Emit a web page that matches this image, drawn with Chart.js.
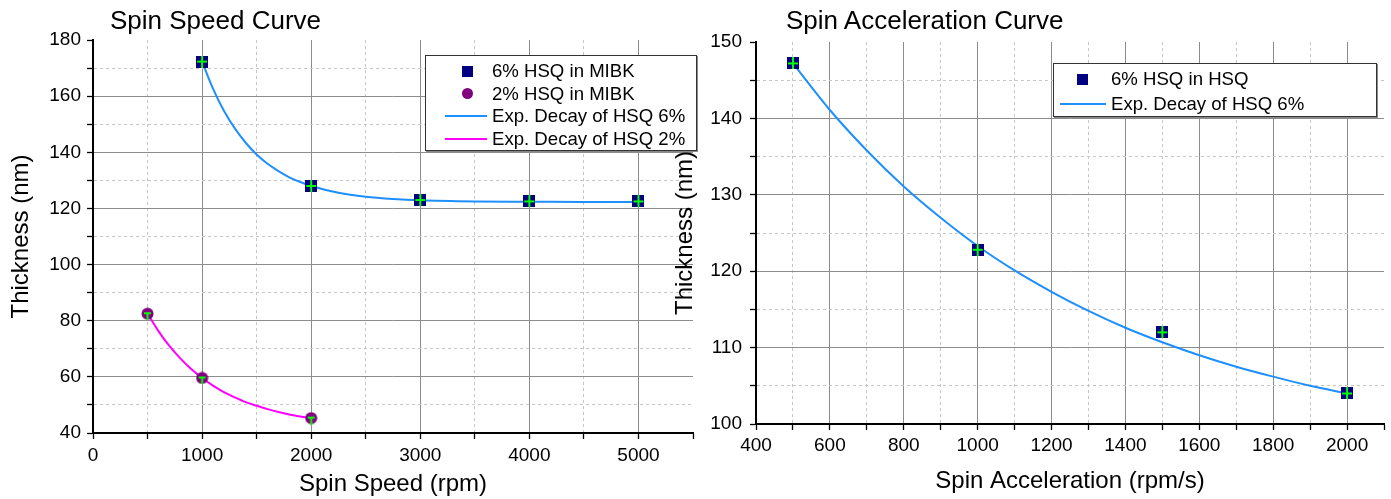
<!DOCTYPE html>
<html><head><meta charset="utf-8">
<script src="https://cdn.jsdelivr.net/npm/chart.js@4.4.0/dist/chart.umd.min.js"></script>
<style>
html,body{margin:0;padding:0;background:#fff;}
body{width:1391px;height:499px;position:relative;overflow:hidden;font-family:'Liberation Sans',Arial,sans-serif;}
canvas{position:absolute;top:0;}
.title{position:absolute;font-size:26px;line-height:26px;color:#000;white-space:nowrap;}
.legend{position:absolute;box-sizing:border-box;border:1px solid #333;box-shadow:1px 1px 0 #888;background:#fff;}
</style>
</head><body>
<canvas id="c1" width="700" height="499" style="left:0"></canvas>
<canvas id="c2" width="723" height="499" style="left:668px"></canvas>
<div class="title" style="left:110px;top:7px">Spin Speed Curve</div>
<div class="title" style="left:786px;top:7px">Spin Acceleration Curve</div>
<div class="legend" id="leg1" style="left:425px;top:55px;width:272px;height:96px"></div>
<div class="legend" id="leg2" style="left:1053px;top:63px;width:324px;height:54px"></div>
<script>
// ---- Data ----
const speed6 = [1000, 2000, 3000, 4000, 5000];
const thick6 = [172.3, 128.0, 123.0, 122.5, 122.5];
const speed2 = [500, 1000, 2000];
const thick2 = [82.5, 59.6, 45.3];
const fit6X = [1000,1100,1200,1300,1400,1500,1600,1700,1800,1900,2000,2250,2500,2750,3000,3500,4000,4500,5000];
const fit6Y = [172.3,162.7,154.8,148.5,143.4,139.2,135.9,133.3,131.1,129.4,128.0,125.6,124.2,123.4,122.9,122.5,122.4,122.3,122.3];
const fit2X = [500,600,700,800,900,1000,1100,1200,1300,1400,1500,1600,1700,1800,1900,2000];
const fit2Y = [82.5,76.3,71.0,66.6,62.8,59.6,56.9,54.6,52.7,51.0,49.7,48.5,47.5,46.6,45.9,45.3];
const accel = [500, 1000, 1500, 2000];
const thickAcc = [147.2, 122.8, 112.0, 104.0];
const fitAccX = [500,600,700,800,900,1000,1100,1200,1300,1400,1500,1600,1700,1800,1900,2000];
const fitAccY = [147.2,141.1,135.8,131.1,127.0,123.3,120.1,117.3,114.8,112.6,110.7,109.0,107.5,106.2,105.0,104.0];
// tick labels (major ticks)
const speedTicks = [0, 1000, 2000, 3000, 4000, 5000];
const thickTicksL = [40, 60, 80, 100, 120, 140, 160, 180];
const accelTicks = [400, 600, 800, 1000, 1200, 1400, 1600, 1800, 2000];
const thickTicksR = [100, 110, 120, 130, 140, 150];
// labels
const lbl6 = '6% HSQ in MIBK', lbl2 = '2% HSQ in MIBK', lblFit6 = 'Exp. Decay of HSQ 6%', lblFit2 = 'Exp. Decay of HSQ 2%';
const lblAcc = '6% HSQ in HSQ', lblFitAcc = 'Exp. Decay of HSQ 6%';

// ---- Styles ----
const LIME = '#00ff00', NAVY = '#000080', PURPLE = '#800080', BLUE = '#1e8fff', MAGENTA = '#ff00ff';
const FONT = "'Liberation Sans', Arial, sans-serif";

function squareMarker() {
  const c = document.createElement('canvas'); c.width = 12; c.height = 12;
  const g = c.getContext('2d');
  g.fillStyle = NAVY; g.fillRect(0, 0, 12, 12);
  g.fillStyle = LIME; g.fillRect(1, 5, 10, 2); g.fillRect(5, 0, 2, 12);
  return c;
}
function circleMarker() {
  const c = document.createElement('canvas'); c.width = 13; c.height = 13;
  const g = c.getContext('2d');
  g.fillStyle = PURPLE; g.beginPath(); g.arc(6.5, 6.5, 6, 0, Math.PI * 2); g.fill();
  g.fillStyle = LIME; g.fillRect(3, 5, 7, 2); g.fillRect(5.5, 6, 2, 7);
  return c;
}
const pts = (xs, ys) => xs.map((x, i) => ({x, y: ys[i]}));

function axis(o) {
  const isMajor = v => o.major.includes(v);
  return {
    type: 'linear', position: o.position, min: o.min, max: o.max,
    afterFit: s => { if (o.width != null) s.width = o.width; if (o.height != null) s.height = o.height; },
    ticks: { stepSize: o.step, autoSkip: false, maxRotation: 0, color: '#000', padding: o.tickPad,
      font: {family: FONT, size: 19}, callback: v => isMajor(v) ? String(v) : '' },
    grid: { drawTicks: true, tickLength: 6, lineWidth: 1, tickWidth: 1.3, tickColor: '#000', tickBorderDash: [],
      color: c => { const v = c.tick && c.tick.value; if (v == null || v === o.min || v === o.max) return 'rgba(0,0,0,0)'; return isMajor(v) ? '#8c8c8c' : '#c6c6c6'; } },
    border: { display: true, color: '#000', width: 2, dash: c => (c.tick && !isMajor(c.tick.value)) ? [3, 3] : [] },
    title: { display: true, text: o.title, color: '#000', font: {family: FONT, size: 24}, padding: o.titlePad }
  };
}

const common = {
  responsive: false, animation: false, events: [],
  plugins: { legend: { display: false }, tooltip: { enabled: false }, title: { display: false } }
};

new Chart(document.getElementById('c1'), {
  type: 'scatter',
  data: { datasets: [
    { label: lblFit6, data: pts(fit6X, fit6Y), showLine: true, borderColor: BLUE, borderWidth: 2, pointRadius: 0, cubicInterpolationMode: 'monotone', order: 2 },
    { label: lblFit2, data: pts(fit2X, fit2Y), showLine: true, borderColor: MAGENTA, borderWidth: 2, pointRadius: 0, cubicInterpolationMode: 'monotone', order: 2 },
    { label: lbl6, data: pts(speed6, thick6), pointStyle: squareMarker(), pointRadius: 6, order: 1 },
    { label: lbl2, data: pts(speed2, thick2), pointStyle: circleMarker(), pointRadius: 6, order: 1 }
  ]},
  options: Object.assign({}, common, {
    layout: { padding: { left: 0, top: 40, right: 4, bottom: 0 } },
    scales: {
      x: axis({position: 'bottom', min: 0, max: 5500, step: 500, major: speedTicks, title: 'Spin Speed (rpm)', height: 66, tickPad: 5, titlePad: {top: 0, bottom: 0}}),
      y: axis({position: 'left', min: 40, max: 180, step: 10, major: thickTicksL, title: 'Thickness (nm)', width: 93, tickPad: 6, titlePad: {top: 7, bottom: 0}})
    }
  })
});

new Chart(document.getElementById('c2'), {
  type: 'scatter',
  data: { datasets: [
    { label: lblFitAcc, data: pts(fitAccX, fitAccY), showLine: true, borderColor: BLUE, borderWidth: 2, pointRadius: 0, cubicInterpolationMode: 'monotone', order: 2 },
    { label: lblAcc, data: pts(accel, thickAcc), pointStyle: squareMarker(), pointRadius: 6, order: 1 }
  ]},
  options: Object.assign({}, common, {
    layout: { padding: { left: 0, top: 42, right: 7, bottom: 0 } },
    scales: {
      x: axis({position: 'bottom', min: 400, max: 2100, step: 100, major: accelTicks, title: 'Spin Acceleration (rpm/s)', height: 75, tickPad: 4, titlePad: {top: 0, bottom: 3}}),
      y: axis({position: 'left', min: 100, max: 150, step: 5, major: thickTicksR, title: 'Thickness (nm)', width: 88, tickPad: 8, titlePad: {top: 3, bottom: 0}})
    }
  })
});

// ---- HTML legends built from the series definitions ----
function buildLegend(el, items, symX, lineX0, lineX1, textX, rowYs) {
  items.forEach((it, i) => {
    const y = rowYs[i];
    const d = document.createElement('div');
    if (it.kind === 'line') {
      d.style.cssText = `position:absolute;left:${lineX0}px;width:${lineX1 - lineX0}px;top:${y - 1}px;height:2px;background:${it.color}`;
    } else {
      const s = 11;
      d.style.cssText = `position:absolute;left:${symX - s / 2}px;top:${y - s / 2}px;width:${s}px;height:${s}px;background:${it.color};border-radius:${it.kind === 'circle' ? '50%' : '0'}`;
    }
    el.appendChild(d);
    const t = document.createElement('div');
    t.textContent = it.label;
    t.style.cssText = `position:absolute;left:${textX}px;top:${y - 11}px;height:22px;line-height:22px;font-size:18.6px;white-space:nowrap;color:#000`;
    el.appendChild(t);
  });
}
buildLegend(document.getElementById('leg1'), [
  {kind: 'square', color: NAVY, label: lbl6},
  {kind: 'circle', color: PURPLE, label: lbl2},
  {kind: 'line', color: BLUE, label: lblFit6},
  {kind: 'line', color: MAGENTA, label: lblFit2}
], 41, 19, 61, 66, [15, 37.5, 60, 82.5]);
buildLegend(document.getElementById('leg2'), [
  {kind: 'square', color: NAVY, label: lblAcc},
  {kind: 'line', color: BLUE, label: lblFitAcc}
], 28, 6, 52, 57, [15, 40]);
</script>
</body></html>
